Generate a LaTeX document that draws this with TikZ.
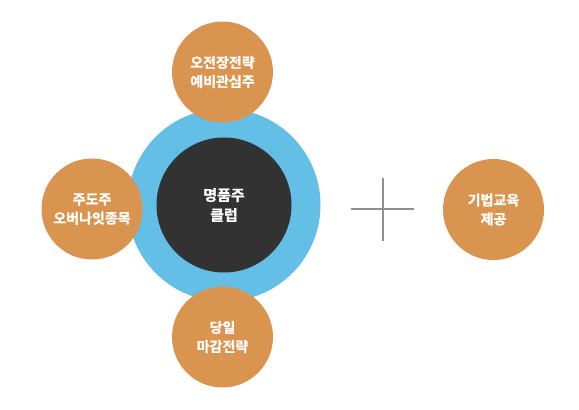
\documentclass[tikz,border=0pt]{standalone}
\usepackage{fontspec}
\newfontfamily\kr{Noto Sans CJK KR Bold}[FakeBold=1.2]
\definecolor{clubOrange}{HTML}{D9944F}
\definecolor{clubBlue}{HTML}{63BFE6}
\definecolor{clubDark}{HTML}{323232}
\definecolor{plusGray}{HTML}{8F8F8F}
\tikzset{
  item/.style={circle, fill=clubOrange, minimum size=101pt, inner sep=0pt,
    text=white, align=center, font=\kr\fontsize{14}{19}\selectfont},
  core/.style={circle, fill=clubDark, minimum size=135pt, inner sep=0pt,
    text=white, align=center, font=\kr\fontsize{15}{20}\selectfont},
  ring/.style={circle, fill=clubBlue, minimum size=193pt, inner sep=0pt}
}
\begin{document}
\begin{tikzpicture}[x=1pt,y=-1pt]
\useasboundingbox (0,0) rectangle (579,410);
% centre club
\node[ring] (ring) at (224,205) {};
\node[core] (club) at (224,205) {명품주\\클럽};
% the three picks around it
\node[item] (strategy) at (222.5,72) {오전장전략\\예비관심주};
\node[item] (leader) at (92,209) {주도주\\오버나잇종목};
\node[item] (closing) at (222.5,337) {당일\\마감전략};
% plus and the extra
\draw[plusGray, line width=2pt] (351,209) -- (414,209);
\draw[plusGray, line width=2pt] (383,178) -- (383,241);
\node[item] (edu) at (493.5,209.5) {기법교육\\제공};
\end{tikzpicture}
\end{document}
